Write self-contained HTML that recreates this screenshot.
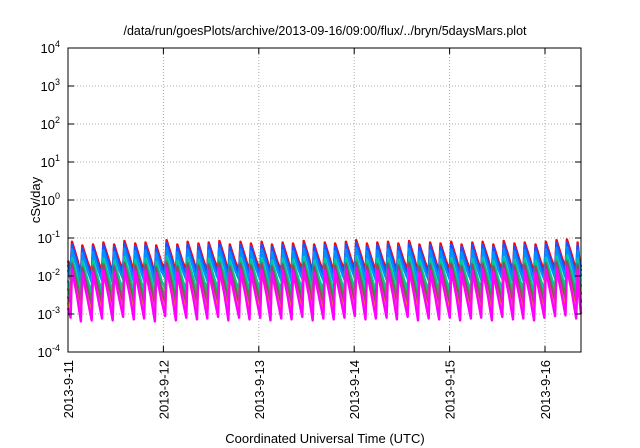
<!DOCTYPE html>
<html><head><meta charset="utf-8"><style>
body{margin:0;background:#fff;width:640px;height:448px;overflow:hidden}
svg{display:block;font-family:"Liberation Sans",sans-serif}
</style></head><body>
<svg id="chart" width="640" height="448">
<text x="325" y="35" font-size="12.5" text-anchor="middle">/data/run/goesPlots/archive/2013-09-16/09:00/flux/../bryn/5daysMars.plot</text>
<text transform="translate(40,200) rotate(-90)" font-size="13" text-anchor="middle">cSv/day</text>
<text x="325" y="443" font-size="13" text-anchor="middle">Coordinated Universal Time (UTC)</text>
<g id="grid"></g><g id="series"></g><g id="axes"></g>
</svg>
<script>
const dayLabels=["2013-9-11","2013-9-12","2013-9-13","2013-9-14","2013-9-15","2013-9-16"];
const yExponents=[-4,-3,-2,-1,0,1,2,3,4];
const peakHours=[1.0,3.6,6.3,8.9,11.6,14.2,16.9,19.5,22.2,24.8,27.5,30.1,32.8,35.4,38.1,40.7,43.4,46.0,48.7,51.3,54.0,56.6,59.3,61.9,64.6,67.2,69.9,72.5,75.2,77.8,80.5,83.1,85.8,88.4,91.1,93.7,96.4,99.0,101.7,104.3,107.0,109.6,112.3,114.9,117.6,120.2,122.9,125.5,128.2];
const peakScale=[1.0,0.8,0.85,0.95,0.85,1.05,0.9,0.95,0.8,1.1,0.85,1.0,0.9,0.95,1.05,0.85,1.0,0.9,1.0,0.85,0.95,0.9,1.05,0.85,0.95,0.9,1.0,1.1,0.9,0.95,1.0,0.9,1.05,0.85,0.95,0.9,1.0,0.85,0.95,1.0,0.85,1.05,0.9,0.95,0.85,1.0,1.1,1.15,0.95];
const seriesNames=["red","blue","azure","teal","green","purple","orange","magenta"];
const seriesColors=["#ff0000","#1e50ff","#0090ff","#00c8a0","#30a040","#a04070","#ffa000","#ff00ff"];
const seriesPeak=[0.08,0.068,0.05,0.03,0.022,0.02,0.013,0.015];
const seriesTrough=[0.014,0.011,0.008,0.0042,0.0026,0.0016,0.0011,0.0008];
const X0=68,X1=581,Y0=352,Y1=48,pxDay=95.4;
const xs=h=>X0+h/24*pxDay;
const ys=v=>Y0-(Math.log10(v)+4)/8*(Y0-Y1);
const NS="http://www.w3.org/2000/svg";
function mk(tag,attrs,parent){const e=document.createElementNS(NS,tag);for(const k in attrs)e.setAttribute(k,attrs[k]);parent.appendChild(e);return e;}
const grid=document.getElementById('grid'),axes=document.getElementById('axes'),ser=document.getElementById('series');
yExponents.forEach(p=>{const y=ys(Math.pow(10,p));
 if(p>-4&&p<4){const l=mk('line',{x1:X0,x2:X1,y1:y,y2:y,stroke:'#aaa','stroke-dasharray':'1,2'},grid);
 
 }
 mk('line',{x1:X0,x2:X0+6,y1:y,y2:y,stroke:'#000'},axes);mk('line',{x1:X1,x2:X1-6,y1:y,y2:y,stroke:'#000'},axes);
 const t=mk('text',{x:60,y:y+5,'font-size':13,'text-anchor':'end'},axes);
 
 
 t.innerHTML='10<tspan dy="-6" font-size="9">'+p+'</tspan>';});
dayLabels.forEach((d,i)=>{const x=X0+i*pxDay;
 if(i>0){const l=mk('line',{x1:x,x2:x,y1:Y1,y2:Y0,stroke:'#aaa','stroke-dasharray':'1,2'},grid);
 
 }
 mk('line',{x1:x,x2:x,y1:Y0,y2:Y0-6,stroke:'#000'},axes);mk('line',{x1:x,x2:x,y1:Y1,y2:Y1+6,stroke:'#000'},axes);
 const t=mk('text',{transform:`translate(${x+5},360) rotate(-90)`,'font-size':13,'text-anchor':'end'},axes);
 
 
 t.textContent=d;});
const fr=mk('rect',{x:X0,y:Y1,width:X1-X0,height:Y0-Y1,fill:'none',stroke:'#000','stroke-width':1},axes);


const endH=(X1-X0)/pxDay*24;
seriesNames.forEach((n,s)=>{let pts=[];const P=seriesPeak[s],T=seriesTrough[s];
 pts.push([0,T*1.8]);
 peakHours.forEach((h,i)=>{const a=peakScale[i];
  pts.push([h-0.35,T*a]);pts.push([h,P*a]);
  const nh=i+1<peakHours.length?peakHours[i+1]:endH;
  const mid=(h+nh)/2;pts.push([mid,Math.sqrt(P*T)*a*0.85]);
  if(i+1>=peakHours.length)pts.push([endH,T*a*1.3]);});
 const d=pts.map((p,i)=>(i?'L':'M')+xs(Math.min(p[0],endH)).toFixed(1)+','+ys(p[1]).toFixed(1)).join('');
 const path=mk('path',{d:d,fill:'none',stroke:seriesColors[s],'stroke-width':2.4,'stroke-linejoin':'round'},ser);
 
 });
</script>
</body></html>
